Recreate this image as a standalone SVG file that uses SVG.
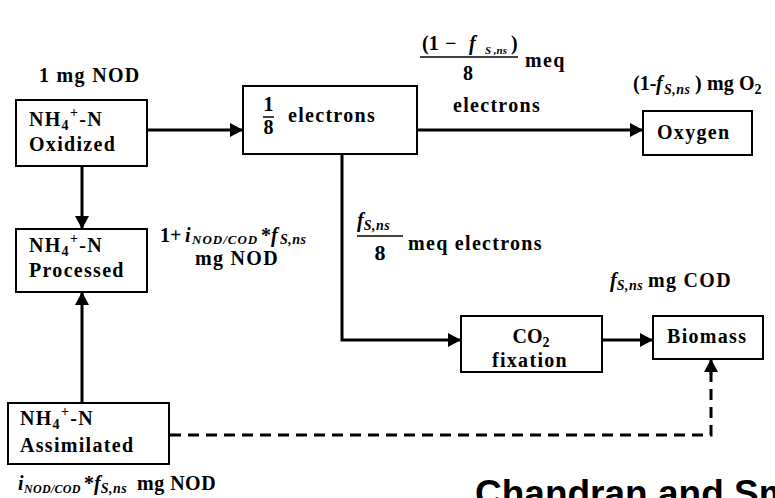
<svg xmlns="http://www.w3.org/2000/svg" width="775" height="498" viewBox="0 0 775 498">
<defs>
<style>
.b{fill:#fff;stroke:#000;stroke-width:2}
.c{fill:none;stroke:#000;stroke-width:3}
.d{fill:none;stroke:#000;stroke-width:3;stroke-dasharray:11 7}
.t{font-family:"Liberation Serif","Times New Roman",serif;font-weight:bold;font-size:20px;letter-spacing:1.3px;fill:#000}
.n{letter-spacing:0}
.s{font-size:14px}
.i{font-style:italic}
.h{font-family:"Liberation Sans",Arial,sans-serif;font-weight:bold;font-size:37px;fill:#000}
</style>
<marker id="a" viewBox="0 0 13 14" refX="13" refY="7" markerWidth="13" markerHeight="14" markerUnits="userSpaceOnUse" orient="auto">
<path d="M0,0 L13,7 L0,14 Z" fill="#000"/>
</marker>
</defs>
<rect width="775" height="498" fill="#fff"/>

<g id="connectors">
<line class="c" x1="147" y1="130" x2="243" y2="130" marker-end="url(#a)"/>
<line class="c" x1="82" y1="166" x2="82" y2="229" marker-end="url(#a)"/>
<line class="c" x1="82" y1="403" x2="82" y2="292" marker-end="url(#a)"/>
<line class="c" x1="417" y1="130" x2="643" y2="130" marker-end="url(#a)"/>
<polyline class="c" points="342,154 342,340 461,340" marker-end="url(#a)"/>
<line class="c" x1="602" y1="340" x2="653" y2="340" marker-end="url(#a)"/>
<polyline class="d" points="170,435 711,435 711,373"/>
<line class="c" x1="711" y1="374" x2="711" y2="359" marker-end="url(#a)"/>
</g>

<g id="oxidized">
<text class="t" x="39" y="82">1 mg NOD</text>
<rect class="b" x="16" y="100" width="131" height="66"/>
<text class="t" x="29" y="126">NH<tspan class="s" dy="4">4</tspan><tspan class="s" dy="-13">+</tspan><tspan dy="9">-N</tspan></text>
<text class="t" x="29" y="151">Oxidized</text>
</g>

<g id="electrons">
<rect class="b" x="243" y="86" width="174" height="68"/>
<text class="t n" x="268.5" y="111" text-anchor="middle">1</text>
<line x1="263" y1="117" x2="274" y2="117" stroke="#000" stroke-width="1.5"/>
<text class="t n" x="268.5" y="134" text-anchor="middle">8</text>
<text class="t" x="288" y="122">electrons</text>
</g>

<g id="oxygen-label">
<text class="t n" x="422" y="50">(1<tspan x="445">−</tspan><tspan x="469" class="i">f</tspan><tspan class="i" x="485" dy="4" style="font-size:11px">S ,ns</tspan><tspan x="511" dy="-4">)</tspan></text>
<line x1="420" y1="57" x2="518" y2="57" stroke="#000" stroke-width="1.5"/>
<text class="t n" x="468" y="80" text-anchor="middle">8</text>
<text class="t" x="525" y="67">meq</text>
<text class="t" x="453" y="112">electrons</text>
<text class="t n" x="633" y="90">(1-<tspan class="i" x="656">f</tspan><tspan class="s i" x="664" dy="4" style="letter-spacing:0.5px">S,ns</tspan><tspan x="695" dy="-4">)</tspan><tspan x="707">mg</tspan><tspan x="739">O</tspan><tspan class="s" dy="4">2</tspan></text>
</g>

<g id="oxygen">
<rect class="b" x="643" y="111" width="109" height="44"/>
<text class="t" x="657" y="139">Oxygen</text>
</g>

<g id="processed">
<rect class="b" x="16" y="229" width="131" height="63"/>
<text class="t" x="29" y="252">NH<tspan class="s" dy="4">4</tspan><tspan class="s" dy="-13">+</tspan><tspan dy="9">-N</tspan></text>
<text class="t" x="29" y="277">Processed</text>
<text class="t n" x="160" y="242">1+<tspan class="i" x="185">i</tspan><tspan class="i" x="192" dy="2" style="font-size:13px;letter-spacing:1px">NOD/COD</tspan><tspan x="261" dy="-2">*</tspan><tspan class="i" x="271">f</tspan><tspan class="s i" x="280" dy="2" style="letter-spacing:0.5px">S,ns</tspan></text>
<text class="t" x="195" y="265">mg NOD</text>
</g>

<g id="fs-label">
<text class="t n" x="357" y="227"><tspan class="i">f</tspan><tspan class="s i" dy="3" style="letter-spacing:0.5px">S,ns</tspan></text>
<line x1="357" y1="236" x2="403" y2="236" stroke="#000" stroke-width="1.5"/>
<text class="t n" x="380" y="260" text-anchor="middle" style="font-size:22px">8</text>
<text class="t" x="408" y="250">meq electrons</text>
</g>

<g id="co2">
<rect class="b" x="461" y="316" width="141" height="56"/>
<text class="t n" x="531" y="343" text-anchor="middle">CO<tspan class="s" dy="4">2</tspan></text>
<text class="t" x="492" y="367">fixation</text>
</g>

<g id="biomass">
<text class="t n" x="610" y="287"><tspan class="i">f</tspan><tspan class="s i" dy="3" style="letter-spacing:0.5px">S,ns</tspan><tspan dy="-3" x="648" style="letter-spacing:1.3px">mg COD</tspan></text>
<rect class="b" x="653" y="316" width="110" height="43"/>
<text class="t" x="667" y="343">Biomass</text>
</g>

<g id="assimilated">
<rect class="b" x="8" y="403" width="161" height="61"/>
<text class="t" x="20" y="425">NH<tspan class="s" dy="4">4</tspan><tspan class="s" dy="-13">+</tspan><tspan dy="9">-N</tspan></text>
<text class="t" x="20" y="452">Assimilated</text>
<text class="t n" x="18" y="490"><tspan class="i">i</tspan><tspan class="i" x="24" dy="3" style="font-size:12px;letter-spacing:0.3px">NOD/COD</tspan><tspan x="84" dy="-3">*</tspan><tspan class="i">f</tspan><tspan class="s i" dy="3" style="letter-spacing:0.5px">S,ns</tspan><tspan x="137" dy="-3" style="letter-spacing:0.5px">mg NOD</tspan></text>
</g>

<text class="h" x="475" y="506">Chandran and Smets</text>
</svg>
